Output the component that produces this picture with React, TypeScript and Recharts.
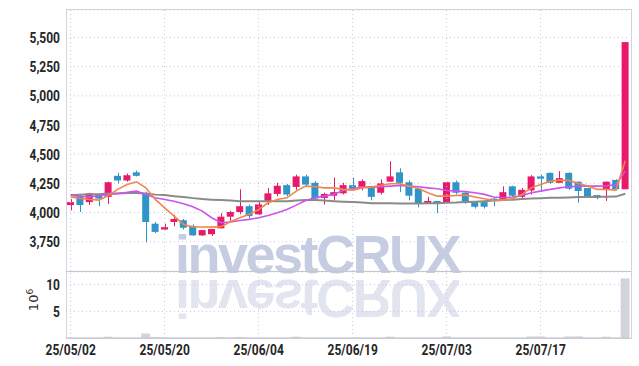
import {
  ComposedChart,
  Bar,
  Line,
  XAxis,
  YAxis,
  CartesianGrid,
  ReferenceLine,
} from 'recharts';

const dates = [
  '25/05/02', '25/05/07', '25/05/08', '25/05/09', '25/05/12', '25/05/13', '25/05/14', '25/05/15', '25/05/16', '25/05/19',
  '25/05/20', '25/05/21', '25/05/22', '25/05/23', '25/05/26', '25/05/27', '25/05/28', '25/05/29', '25/05/30', '25/06/02',
  '25/06/04', '25/06/05', '25/06/09', '25/06/10', '25/06/11', '25/06/12', '25/06/13', '25/06/16', '25/06/17', '25/06/18',
  '25/06/19', '25/06/20', '25/06/23', '25/06/24', '25/06/25', '25/06/26', '25/06/27', '25/06/30', '25/07/01', '25/07/02',
  '25/07/03', '25/07/04', '25/07/07', '25/07/08', '25/07/09', '25/07/10', '25/07/11', '25/07/14', '25/07/15', '25/07/16',
  '25/07/17', '25/07/18', '25/07/21', '25/07/22', '25/07/23', '25/07/24', '25/07/25', '25/07/28', '25/07/29', '25/07/30',
];

const opens = [
  4065, 4135, 4090, 4155, 4135, 4315, 4275, 4345, 4165, 3905,
  3855, 3920, 3935, 3885, 3805, 3815, 3865, 3965, 4005, 4055,
  3985, 4100, 4160, 4235, 4220, 4310, 4255, 4125, 4145, 4165,
  4235, 4220, 4225, 4170, 4265, 4345, 4260, 4205, 4080, 4100,
  4085, 4260, 4170, 4090, 4090, 4120, 4115, 4225, 4135, 4190,
  4310, 4340, 4255, 4340, 4265, 4210, 4150, 4200, 4280, 4200,
];
const highs = [
  4115, 4155, 4170, 4160, 4265, 4340, 4335, 4360, 4180, 3920,
  3905, 3980, 3945, 3900, 3850, 3860, 3995, 4015, 4200, 4070,
  4090, 4210, 4255, 4245, 4325, 4325, 4270, 4170, 4300, 4255,
  4300, 4285, 4230, 4285, 4440, 4380, 4275, 4210, 4135, 4100,
  4265, 4275, 4175, 4095, 4090, 4130, 4225, 4230, 4210, 4320,
  4325, 4345, 4355, 4345, 4265, 4215, 4150, 4265, 4285, 5460,
];
const lows = [
  4020, 4005, 4065, 4055, 4075, 4250, 4265, 4310, 3745, 3825,
  3855, 3885, 3855, 3800, 3800, 3800, 3865, 3925, 3985, 3950,
  3980, 4065, 4140, 4140, 4195, 4225, 4100, 4070, 4105, 4155,
  4190, 4190, 4105, 4155, 4265, 4175, 4105, 4045, 4080, 3995,
  4080, 4155, 4075, 4035, 4035, 4055, 4115, 4135, 4115, 4155,
  4190, 4245, 4255, 4195, 4085, 4130, 4115, 4100, 4190, 4200,
];
const closes = [
  4090, 4065, 4165, 4120, 4260, 4275, 4320, 4315, 3920, 3835,
  3875, 3945, 3870, 3805, 3850, 3860, 3965, 4005, 4055, 3970,
  4070, 4165, 4230, 4155, 4310, 4240, 4120, 4160, 4175, 4235,
  4205, 4270, 4135, 4250, 4310, 4255, 4145, 4080, 4100, 4080,
  4260, 4170, 4085, 4050, 4050, 4110, 4175, 4145, 4195, 4310,
  4290, 4255, 4295, 4205, 4185, 4140, 4125, 4265, 4200, 5460,
];

// moving averages
const ma5 = [
  4133, 4121, 4113, 4107, 4147, 4199, 4241, 4264, 4212, 4113,
  4041, 3970, 3899, 3878, 3877, 3876, 3880, 3921, 3956, 3985,
  4027, 4084, 4113, 4127, 4184, 4227, 4221, 4212, 4212, 4199,
  4193, 4212, 4218, 4235, 4247, 4247, 4227, 4207, 4170, 4141,
  4141, 4147, 4150, 4133, 4118, 4104, 4107, 4118, 4156, 4212,
  4241, 4270, 4278, 4276, 4250, 4227, 4199, 4199, 4193, 4444,
];
const ma10 = [
  4147, 4139, 4135, 4144, 4156, 4164, 4173, 4184, 4156, 4127,
  4113, 4098, 4075, 4050, 4013, 3956, 3913, 3919, 3933, 3942,
  3956, 3976, 3998, 4027, 4064, 4104, 4127, 4141, 4158, 4190,
  4207, 4218, 4218, 4221, 4227, 4233, 4227, 4221, 4212, 4204,
  4190, 4184, 4180, 4170, 4156, 4133, 4127, 4133, 4147, 4170,
  4184, 4199, 4212, 4221, 4227, 4227, 4227, 4229, 4241, 4355,
];
const ma60 = [
  4150, 4154, 4158, 4158, 4163, 4163, 4167, 4167, 4163, 4154,
  4150, 4141, 4133, 4124, 4116, 4111, 4107, 4103, 4098, 4098,
  4098, 4098, 4098, 4098, 4103, 4107, 4107, 4103, 4098, 4094,
  4090, 4086, 4081, 4081, 4081, 4079, 4079, 4079, 4081, 4081,
  4084, 4086, 4090, 4094, 4098, 4103, 4107, 4111, 4116, 4120,
  4124, 4127, 4128, 4130, 4133, 4133, 4135, 4135, 4137, 4161,
];

// volume in 10^6 shares
const volumes = [
  0.05, 0.05, 0.05, 0.05, 0.25, 0.05, 0.05, 0.05, 0.85, 0.2,
  0.05, 0.05, 0.05, 0.05, 0.05, 0.05, 0.2, 0.05, 0.2, 0.05,
  0.05, 0.05, 0.05, 0.05, 0.25, 0.05, 0.05, 0.05, 0.05, 0.05,
  0.05, 0.05, 0.05, 0.05, 0.25, 0.05, 0.05, 0.05, 0.05, 0.05,
  0.3, 0.05, 0.05, 0.05, 0.05, 0.05, 0.05, 0.05, 0.05, 0.3,
  0.3, 0.05, 0.05, 0.3, 0.3, 0.05, 0.05, 0.25, 0.05, 11.2,
];

const priceTicks = [3500, 3750, 4000, 4250, 4500, 4750, 5000, 5250, 5500];
const volumeTicks = [5, 10];
const gridDates = [0, 10, 20, 30, 40, 50].map((i) => dates[i]);

const RED = '#e8196b';
const BLUE = '#2f95c9';
const GRID = '#c3c8de';
const FONT = "Roboto, 'DejaVu Sans', sans-serif";

const priceData = dates.map((date, i) => ({
  date,
  range: [lows[i], highs[i]],
  open: opens[i],
  high: highs[i],
  low: lows[i],
  close: closes[i],
  ma5: ma5[i],
  ma10: ma10[i],
  ma60: ma60[i],
}));

const volumeData = dates.map((date, i) => ({ date, vol: volumes[i] }));

function Candle(props: any) {
  const { x, y, width, height, payload } = props;
  if (!payload) return null;
  const { open, close, high, low } = payload;
  const top = Math.min(y, y + height);
  const h = Math.abs(height);
  const ratio = h / (high - low || 1);
  const color = close >= open ? RED : BLUE;
  const bodyTop = top + (high - Math.max(open, close)) * ratio;
  const bodyH = Math.max(1, Math.abs(close - open) * ratio);
  const cx = Math.round(x + width / 2) + 0.5;
  return (
    <g>
      <line x1={cx} x2={cx} y1={top} y2={top + h} stroke={color} strokeWidth={1} />
      <rect x={x} y={bodyTop} width={width} height={bodyH} fill={color} />
    </g>
  );
}

// condensed-looking labels: squeeze a regular font horizontally
function YTick(props: any) {
  const { x, y, payload } = props;
  return (
    <text
      transform={`translate(${x},${y}) scale(0.8,1)`}
      textAnchor="end"
      dominantBaseline="central"
      fill="#262626"
      fontSize={15}
      fontWeight={700}
      fontFamily={FONT}
    >
      {Number(payload.value).toLocaleString('en-US')}
    </text>
  );
}

function XTick(props: any) {
  const { x, y, payload } = props;
  return (
    <text
      transform={`translate(${x},${y + 3}) scale(0.8,1)`}
      textAnchor="middle"
      dominantBaseline="central"
      fill="#262626"
      fontSize={15}
      fontWeight={700}
      fontFamily={FONT}
    >
      {payload.value}
    </text>
  );
}

export default function App() {
  return (
    <div style={{ position: 'relative', width: 639, height: 366, background: '#fff', overflow: 'hidden' }}>
      <style>{'body{margin:0}'}</style>

      {/* watermark, with its mirror image drawn by the browser */}
      <div
        style={{
          position: 'absolute', left: 175, top: 233, fontSize: 54, lineHeight: 0.8,
          fontWeight: 'bold', fontFamily: "'Liberation Sans', Arial, sans-serif",
          letterSpacing: -2.5, whiteSpace: 'nowrap', color: '#c6cce1',
          WebkitBoxReflect: 'below 1px linear-gradient(rgba(0,0,0,0.5), rgba(0,0,0,0.5))',
        } as any}
      >
        investCRUX
      </div>

      {/* frame */}
      <div style={{ position: 'absolute', left: 66, top: 9, width: 564, height: 328, border: '1px solid #d2d3dc' }} />
      <div style={{ position: 'absolute', left: 66, top: 271, width: 565, height: 1, background: '#c4c5cf' }} />

      <div style={{ position: 'absolute', left: 0, top: 0 }}>
        <ComposedChart
          width={639}
          height={271}
          data={priceData}
          margin={{ top: 10, right: 9, bottom: 0, left: 0 }}
        >
          <CartesianGrid stroke={GRID} strokeDasharray="1 3" vertical={false} />
          {gridDates.map((d) => (
            <ReferenceLine key={d} x={d} stroke={GRID} strokeDasharray="1 3" />
          ))}
          <XAxis dataKey="date" hide />
          <YAxis
            domain={[3500, 5735]}
            ticks={priceTicks}
            allowDataOverflow
            width={66}
            axisLine={false}
            tickLine={false}
            tickSize={4}
            tickMargin={2}
            tick={YTick}
          />
          <Bar dataKey="range" barSize={7} shape={Candle} isAnimationActive={false} />
          <Line dataKey="ma60" stroke="#8a8a8a" strokeWidth={2} dot={false} isAnimationActive={false} />
          <Line dataKey="ma10" stroke="#c955ec" strokeWidth={1.6} dot={false} isAnimationActive={false} />
          <Line dataKey="ma5" stroke="#f0874a" strokeWidth={1.6} dot={false} isAnimationActive={false} />
        </ComposedChart>
      </div>

      <div style={{ position: 'absolute', left: 0, top: 271 }}>
        <ComposedChart
          width={639}
          height={95}
          data={volumeData}
          margin={{ top: 1, right: 9, bottom: 0, left: 0 }}
        >
          <CartesianGrid stroke={GRID} strokeDasharray="1 3" vertical={false} />
          {gridDates.map((d) => (
            <ReferenceLine key={d} x={d} stroke={GRID} strokeDasharray="1 3" />
          ))}
          <XAxis
            dataKey="date"
            interval={9}
            height={28}
            axisLine={{ stroke: '#c4c5cf' }}
            tickLine={false}
            tick={XTick}
          />
          <YAxis
            domain={[0, 12.4]}
            ticks={volumeTicks}
            allowDataOverflow
            width={66}
            axisLine={false}
            tickLine={false}
            tickSize={4}
            tickMargin={2}
            tick={YTick}
          />
          <Bar dataKey="vol" fill="#d3d3dc" barSize={9} isAnimationActive={false} />
        </ComposedChart>
      </div>

      <div
        style={{
          position: 'absolute', left: 33, top: 300, transform: 'translate(-50%, -50%) rotate(-90deg)',
          fontFamily: "'DejaVu Sans', sans-serif", fontSize: 13, color: '#333', whiteSpace: 'nowrap',
        }}
      >
        10<sup style={{ fontSize: 9 }}>6</sup>
      </div>
    </div>
  );
}
